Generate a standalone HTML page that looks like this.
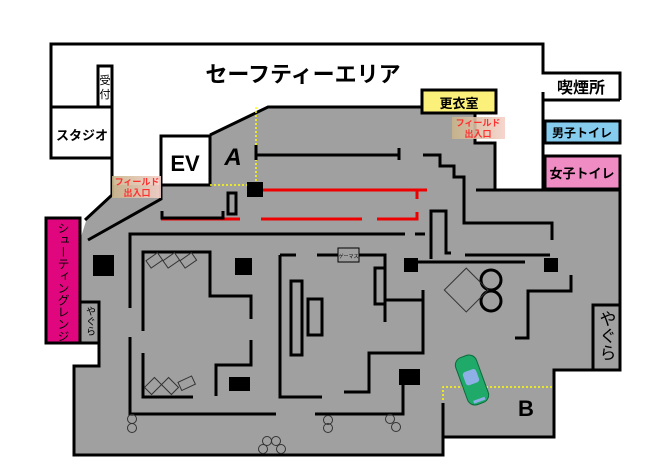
<!DOCTYPE html>
<html><head><meta charset="utf-8"><style>
html,body{margin:0;padding:0;background:#fff;width:660px;height:470px;overflow:hidden}
svg{display:block;font-family:"Liberation Sans","Noto Sans CJK JP",sans-serif}
</style></head><body>
<svg width="660" height="470" viewBox="0 0 660 470" xmlns="http://www.w3.org/2000/svg">
<defs><linearGradient id="g1" x1="0" x2="1"><stop offset="0" stop-color="#c8b48a"/><stop offset="1" stop-color="#f5d0c8"/></linearGradient></defs>
<path d="M51,158 V44 H543 V73 H620 V100" fill="none" stroke="#000" stroke-width="3"/>
<path d="M112,195 L112,185 H210 V135 L268,107 H422 V113 H475 V143 H495 V190 H620 V370 H554 V437 H443 V455 H74 V366 H99 V343 H80 V240 L87,218 Z" fill="#a0a0a0"/>
<path d="M161,185 V199 L88,240 M112,158 V195 L85,220 M210,135 L268,107 H422 M475,113 V143 H495 V190 M476,190 H620 V370 H554 V437 H443 M443,403 V455 H74 V366 H99 V343" fill="none" stroke="#000" stroke-width="3"/>
<rect x="51" y="107" width="61" height="51" fill="#fff" stroke="#000" stroke-width="3"/>
<rect x="98" y="66" width="14" height="41" fill="#fff" stroke="#000" stroke-width="3"/>
<rect x="161" y="136" width="49" height="49" fill="#fff" stroke="#000" stroke-width="3"/>
<rect x="422" y="90" width="74" height="23" fill="#fbf17a" stroke="#000" stroke-width="3"/>
<rect x="545" y="121" width="75" height="22" fill="#86ccef" stroke="#000" stroke-width="3"/>
<rect x="545" y="156" width="75" height="33" fill="#f08cc4" stroke="#000" stroke-width="3"/>
<path d="M543,92 V189 M543,100 H620 M543,121 H620 M543,143 H620 M543,156 H620" stroke="#000" stroke-width="3"/>
<rect x="46" y="218" width="34" height="125" fill="#e0077e" stroke="#000" stroke-width="3"/>
<rect x="80" y="302" width="19" height="41" fill="#a0a0a0" stroke="#000" stroke-width="3"/>
<rect x="593" y="305" width="27" height="65" fill="#a0a0a0" stroke="#000" stroke-width="3"/>
<rect x="112" y="176" width="49" height="22" fill="url(#g1)" opacity="0.9"/>
<rect x="452" y="117" width="53" height="22" fill="url(#g1)" opacity="0.9"/>
<g fill="#ff3030" font-size="9" font-weight="bold" text-anchor="middle">
<text x="137" y="185">フィールド</text><text x="137" y="196">出入口</text>
<text x="478" y="126">フィールド</text><text x="478" y="137">出入口</text></g>
<path d="M256,107 V182 M210,185 H247 M443,400 V387 H554" fill="none" stroke="#ff0" stroke-width="1.5" stroke-dasharray="2,2"/>
<path d="M263,190 H427 M417,190 V199 M417,212 V219 H377 M362,219 H261 M240,219 H161" fill="none" stroke="#e00" stroke-width="3"/>
<g fill="none" stroke="#000" stroke-width="3">
<path d="M256,145 V160 M256,155 H399 M399,148 V160"/>
<path d="M423,155 H440 V166 H454 V177 H464 V223 H552 V240"/>
<path d="M162,211 V218 H223 V211"/><rect x="228" y="193" width="8" height="21"/>
<path d="M130,308 V234 H405 M415,234 H425 M130,337 V414 H276 M315,414 H403 V370"/>
<path d="M143,331 V252 H210 V296 H251 V319 M251,340 V365 H216 V396 M143,353 V397 H193"/>
<path d="M280,255 V397 H322 M280,255 H296 M317,255 H385 V322 M385,300 H422"/>
<rect x="291" y="281" width="11" height="74"/><rect x="308" y="299" width="14" height="36"/><rect x="375" y="268" width="10" height="36"/>
<path d="M423,290 V353 H369 V392 H344"/>
<path d="M431,259 V211 H446 V253 H451"/>
<path d="M418,262 H525 M465,255 H550"/>
<path d="M571,275 V291 H528 V338 H515"/>
</g>
<g fill="#000"><rect x="247" y="182" width="16" height="15"/><rect x="93" y="255" width="21" height="21"/><rect x="235" y="258" width="17" height="17"/><rect x="229" y="377" width="21" height="14"/><rect x="404" y="258" width="14" height="14"/><rect x="544" y="258" width="14" height="14"/><rect x="399" y="369" width="21" height="16"/></g>
<g fill="none" stroke="#000" stroke-width="3"><circle cx="491" cy="280" r="10"/><circle cx="491" cy="301" r="10"/></g>
<g fill="none" stroke="#333" stroke-width="1"><rect x="446" y="273" width="31" height="31" transform="rotate(45 462 295)"/>
<circle cx="132" cy="419" r="4.5"/><circle cx="132" cy="428" r="4.5"/><circle cx="328" cy="420" r="4.5"/><circle cx="328" cy="428" r="4.5"/><circle cx="390" cy="419" r="4.5"/><circle cx="396" cy="427" r="4.5"/>
<circle cx="267" cy="441" r="4.5"/><circle cx="276" cy="441" r="4.5"/><circle cx="263" cy="449" r="4.5"/><circle cx="281" cy="449" r="4.5"/>
<rect x="147" y="256" width="14" height="9" transform="rotate(-35 154 260)"/><rect x="164" y="256" width="14" height="9" transform="rotate(-35 171 260)"/><rect x="181" y="256" width="14" height="9" transform="rotate(-35 188 260)"/>
<rect x="146" y="381" width="14" height="10" transform="rotate(-45 153 386)"/><rect x="163" y="381" width="14" height="10" transform="rotate(45 170 386)"/><rect x="179" y="379" width="15" height="9" transform="rotate(-25 186 383)"/>
</g>
<rect x="338" y="248" width="21" height="14" fill="#a0a0a0" stroke="#000"/>
<text x="348.5" y="258" font-size="5" text-anchor="middle">ゲーマス</text>
<g transform="translate(472,380) rotate(-20)"><rect x="-11" y="-25" width="22" height="50" rx="8" fill="#1faa6a" stroke="#0a6a3a"/><rect x="-7" y="-10" width="14" height="14" rx="3" fill="#8fb0e6"/><rect x="-6" y="20" width="12" height="3" fill="#8fb0e6"/></g>
<g fill="#000">
<text x="303" y="82" font-size="22" font-weight="bold" text-anchor="middle">セーフティーエリア</text>
<text x="82" y="140" font-size="13" font-weight="bold" text-anchor="middle">スタジオ</text>
<text x="105" y="84" font-size="11" text-anchor="middle">受</text><text x="105" y="98" font-size="11" text-anchor="middle">付</text>
<text x="185" y="171" font-size="22" font-weight="bold" text-anchor="middle">EV</text>
<text x="233" y="165" font-size="24" font-weight="bold" font-style="italic" text-anchor="middle">A</text>
<text x="526" y="416" font-size="22" font-weight="bold" text-anchor="middle">B</text>
<text x="459" y="108" font-size="13" font-weight="bold" text-anchor="middle">更衣室</text>
<text x="581" y="93" font-size="16" font-weight="bold" text-anchor="middle">喫煙所</text>
<text x="582" y="137" font-size="12" font-weight="bold" text-anchor="middle">男子トイレ</text>
<text x="582" y="178" font-size="13" font-weight="bold" text-anchor="middle">女子トイレ</text>
<text x="63" y="222" font-size="12" style="writing-mode:vertical-rl" text-anchor="start">シューティングレンジ</text>
<text x="89" y="306" font-size="10" style="writing-mode:vertical-rl">やぐら</text>
<text x="606" y="310" font-size="17" style="writing-mode:vertical-rl">やぐら</text>
</g>
</svg>
</body></html>
